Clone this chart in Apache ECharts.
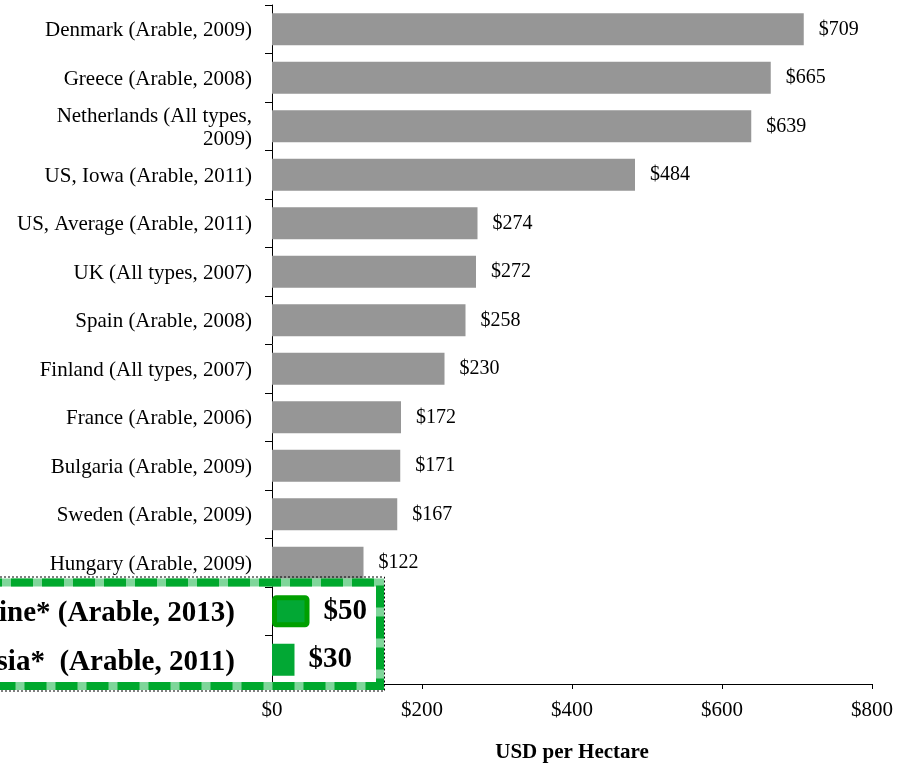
<!DOCTYPE html>
<html>
<head>
<meta charset="utf-8">
<script src="https://cdn.jsdelivr.net/npm/echarts@6/dist/echarts.min.js"></script>
<style>
  html, body { margin: 0; padding: 0; background: #fff; }
  #chart { width: 913px; height: 765px; }
</style>
</head>
<body>
<div id="chart"></div>
<script>
// land prices, top to bottom
var categories = [
  'Denmark (Arable, 2009)',
  'Greece (Arable, 2008)',
  'Netherlands (All types,\n2009)',
  'US, Iowa (Arable, 2011)',
  'US, Average (Arable, 2011)',
  'UK (All types, 2007)',
  'Spain (Arable, 2008)',
  'Finland (All types, 2007)',
  'France (Arable, 2006)',
  'Bulgaria (Arable, 2009)',
  'Sweden (Arable, 2009)',
  'Hungary (Arable, 2009)',
  'Ukraine* (Arable, 2013)',
  'Russia*  (Arable, 2011)'
]
var values = [709, 665, 639, 484, 274, 272, 258, 230, 172, 171, 167, 122, 50, 30]
// the ones inside the green box
var highlighted = ['Ukraine* (Arable, 2013)', 'Russia*  (Arable, 2011)']
var xTicks = [0, 200, 400, 600, 800]

var FONT = 'Liberation Serif'
var chart = echarts.init(document.getElementById('chart'))

var seriesData = values.map(function(v, i) {
  var name = categories[i]
  if (highlighted.indexOf(name) < 0) return v
  var item = {
    value: v,
    itemStyle: { color: '#02a834' },
    label: { fontSize: 29, fontWeight: 'bold', distance: 14, padding: [4, 0, 0, 0] }
  }
  if (i === categories.indexOf(highlighted[0])) {
    item.itemStyle.borderColor = '#009f00'
    item.itemStyle.borderWidth = 5
    item.itemStyle.borderRadius = 2
  }
  return item
})

chart.setOption({
  animation: false,
  textStyle: { fontFamily: FONT },
  grid: {
    left: 272,
    right: 41,
    top: 5,
    bottom: 81,
    containLabel: false,
    outerBoundsMode: 'none'
  },
  xAxis: {
    type: 'value',
    min: xTicks[0],
    max: xTicks[xTicks.length - 1],
    interval: 200,
    name: 'USD per Hectare',
    nameLocation: 'middle',
    nameGap: 58,
    nameTextStyle: { fontFamily: FONT, fontSize: 21, fontWeight: 'bold', color: '#000' },
    axisLine: { show: true, lineStyle: { color: '#000', width: 1 } },
    axisTick: { show: true, length: 5, lineStyle: { color: '#000' } },
    axisLabel: {
      fontFamily: FONT,
      fontSize: 21,
      color: '#000',
      margin: 16,
      formatter: function(v) { return '$' + v }
    },
    splitLine: { show: false }
  },
  yAxis: {
    type: 'category',
    inverse: true,
    data: categories,
    axisLine: { show: true, lineStyle: { color: '#000', width: 1 } },
    axisTick: { show: true, length: 7, lineStyle: { color: '#000' } },
    axisLabel: {
      interval: 0,
      fontFamily: FONT,
      fontSize: 21,
      lineHeight: 23,
      color: '#000',
      margin: 20,
      padding: [3, 0, 0, 0],
      formatter: function(v) {
        if (highlighted.indexOf(v) >= 0) return '{big|' + v + '}'
        return v
      },
      rich: {
        big: {
          fontFamily: FONT,
          fontSize: 29,
          fontWeight: 'bold',
          color: '#000',
          padding: [2, 17, 0, 0]
        }
      }
    }
  },
  series: [{
    type: 'bar',
    data: seriesData,
    barCategoryGap: '34%',
    itemStyle: { color: '#969696' },
    label: {
      show: true,
      position: 'right',
      distance: 15,
      padding: [3, 0, 0, 0],
      fontFamily: FONT,
      fontSize: 20,
      color: '#000',
      formatter: function(p) { return '$' + p.value }
    }
  }],
  graphic: [
    {
      // light green under the dashes
      type: 'rect',
      z: 50,
      shape: { x: -20, y: 582.5, width: 400, height: 103.5 },
      style: { fill: null, stroke: '#7fd69a', lineWidth: 8 }
    },
    {
      type: 'rect',
      z: 51,
      shape: { x: -20, y: 582.5, width: 400, height: 103.5 },
      style: { fill: null, stroke: '#00a82d', lineWidth: 8, lineDash: [22, 9] }
    },
    {
      type: 'rect',
      z: 52,
      shape: { x: -20, y: 577, width: 404.5, height: 114 },
      style: { fill: null, stroke: '#000', lineWidth: 1, lineDash: [2, 2] }
    }
  ]
})
</script>
</body>
</html>
